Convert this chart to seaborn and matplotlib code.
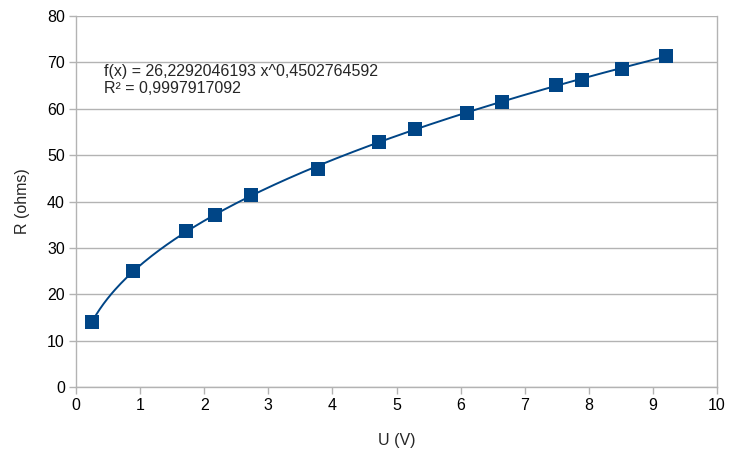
import numpy as np
import pandas as pd
import matplotlib
matplotlib.use("Agg")
import matplotlib.pyplot as plt
import seaborn as sns

# Data
U = [0.25, 0.89, 1.72, 2.17, 2.73, 3.78, 4.73, 5.29, 6.10, 6.65, 7.49, 7.89, 8.52, 9.21]
R = [14.0, 25.0, 33.6, 37.1, 41.4, 47.0, 52.9, 55.6, 59.0, 61.5, 65.1, 66.3, 68.6, 71.4]
fit_a = 26.2292046193
fit_b = 0.4502764592
fit_label = "f(x) = 26,2292046193 x^0,4502764592"
r2_label = "R² = 0,9997917092"
x_ticks = list(range(0, 11))
y_ticks = list(range(0, 90, 10))

sns.set_theme(style="white")
plt.rcParams['font.family'] = ['Liberation Sans', 'DejaVu Sans']

color = "#004586"
df = pd.DataFrame({"U": U, "R": R})
xs = np.linspace(min(U), max(U), 300)
trend = pd.DataFrame({"U": xs, "R": fit_a * xs ** fit_b})

fig = plt.figure(figsize=(7.36, 4.53), dpi=100)
ax = fig.add_axes([76/736, 1 - 387/453, (717-76)/736, (387-16)/453])

sns.lineplot(data=trend, x="U", y="R", ax=ax, color=color, linewidth=1.4, zorder=2)
sns.scatterplot(data=df, x="U", y="R", ax=ax, marker="s", s=110, color=color,
                edgecolor=color, linewidth=0, zorder=3)

ax.set_xlim(0, 10)
ax.set_ylim(0, 80)
ax.set_xticks(x_ticks)
ax.set_yticks(y_ticks)
ax.yaxis.grid(True, color="#b3b3b3", linewidth=1)
ax.xaxis.grid(False)
for s in ["left", "bottom", "right"]:
    ax.spines[s].set_visible(True)
    ax.spines[s].set_color("#b3b3b3")
    ax.spines[s].set_linewidth(1)
ax.spines["top"].set_visible(False)
ax.tick_params(axis="both", which="major", length=5, width=1, color="#b3b3b3",
               labelsize=11.5, labelcolor="#000000", direction="out", pad=3)
ax.tick_params(axis="x", bottom=True)
ax.tick_params(axis="y", left=True)

ax.set_xlabel("U (V)", fontsize=11.5, labelpad=14)
ax.set_ylabel("R (ohms)", fontsize=11.5, labelpad=12)

ax.text(0.44, 68.0, fit_label, fontsize=11.5, va="center", ha="left")
ax.text(0.44, 64.3, r2_label, fontsize=11.5, va="center", ha="left")

fig.savefig("out.png", dpi=100)
